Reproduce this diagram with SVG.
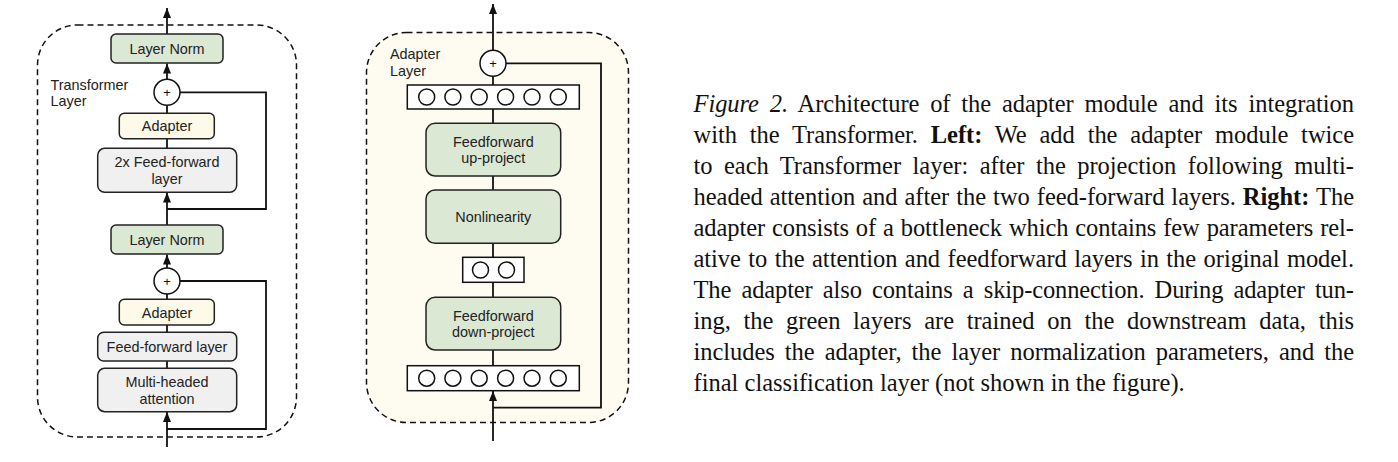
<svg xmlns="http://www.w3.org/2000/svg" width="1398" height="462" viewBox="0 0 1398 462">
<style>
.frame{fill:none;stroke:#111;stroke-width:1.5;stroke-dasharray:6 4}
.green{fill:#dbe8d4;stroke:#222;stroke-width:1.5}
.cream{fill:#fdfaea;stroke:#222;stroke-width:1.5}
.grey{fill:#f0f0f0;stroke:#222;stroke-width:1.5}
.plain{fill:#fff;stroke:#111;stroke-width:1.5}
.lbl{font-family:"Liberation Sans",Arial,sans-serif;font-size:14.4px;fill:#222}
.ctr{text-anchor:middle}
.plus{font-family:"Liberation Sans",Arial,sans-serif;font-size:13px;fill:#111;text-anchor:middle}
.wire{fill:none;stroke:#111;stroke-width:1.8}
.cap{font-family:"Liberation Serif","Times New Roman",serif;font-size:24.5px;fill:#111}
</style>
<defs>
<marker id="ah" markerUnits="userSpaceOnUse" markerWidth="10" markerHeight="8" refX="10" refY="4" orient="auto">
<path d="M0,0 L10,4 L0,8 Z" fill="#111"/>
</marker>
</defs>

<g id="left-frame">
<rect class="frame" x="37.5" y="25" width="259" height="412" rx="40"/>
<text class="lbl" x="50.5" y="89.5">Transformer</text>
<text class="lbl" x="50.5" y="106">Layer</text>
</g>

<g id="right-frame">
<rect class="frame" x="366.5" y="32.5" width="262" height="390" rx="40" style="fill:#fefcf0"/>
<text class="lbl" x="390" y="59">Adapter</text>
<text class="lbl" x="390" y="75.5">Layer</text>
</g>

<g id="connectors">
<line class="wire" x1="167" y1="34" x2="167" y2="8" marker-end="url(#ah)"/>
<line class="wire" x1="167" y1="79" x2="167" y2="63.5" marker-end="url(#ah)"/>
<line class="wire" x1="167" y1="105" x2="167" y2="113.5"/>
<line class="wire" x1="167" y1="138.5" x2="167" y2="148.5"/>
<line class="wire" x1="167" y1="225" x2="167" y2="192.5" marker-end="url(#ah)"/>
<polyline class="wire" points="180,92.3 266,92.3 266,209 167,209"/>
<line class="wire" x1="167" y1="268" x2="167" y2="254.5" marker-end="url(#ah)"/>
<line class="wire" x1="167" y1="294" x2="167" y2="299.5"/>
<line class="wire" x1="167" y1="325" x2="167" y2="332.5"/>
<line class="wire" x1="167" y1="361" x2="167" y2="368.5"/>
<line class="wire" x1="167" y1="447" x2="167" y2="412" marker-end="url(#ah)"/>
<polyline class="wire" points="180,281 266,281 266,429 167,429"/>
<line class="wire" x1="493" y1="50.3" x2="493" y2="4" marker-end="url(#ah)"/>
<line class="wire" x1="493" y1="76.3" x2="493" y2="85"/>
<line class="wire" x1="493" y1="109" x2="493" y2="123.5"/>
<line class="wire" x1="493" y1="176" x2="493" y2="190"/>
<line class="wire" x1="493" y1="243.3" x2="493" y2="257.3"/>
<line class="wire" x1="493" y1="282.3" x2="493" y2="297.3"/>
<line class="wire" x1="493" y1="350" x2="493" y2="365.7"/>
<line class="wire" x1="493" y1="441" x2="493" y2="391" marker-end="url(#ah)"/>
<polyline class="wire" points="506,63.3 601,63.3 601,407.7 493,407.7"/>
</g>

<g id="ln-top">
<rect class="green" x="111" y="34" width="112" height="29" rx="5"/>
<text class="lbl ctr" x="167" y="54">Layer Norm</text>
</g>
<g id="plus-top">
<circle class="plain" cx="167" cy="92.3" r="13"/>
<text class="plus" x="167" y="97">+</text>
</g>
<g id="adapter-top">
<rect class="cream" x="119.3" y="113.3" width="95" height="25.4" rx="5"/>
<text class="lbl ctr" x="167" y="131.3">Adapter</text>
</g>
<g id="ff2x">
<rect class="grey" x="97.7" y="148.3" width="139" height="44" rx="7"/>
<text class="lbl ctr" x="167" y="167.3">2x Feed-forward</text>
<text class="lbl ctr" x="167" y="183.5">layer</text>
</g>
<g id="ln-bottom">
<rect class="green" x="111" y="225" width="112" height="29" rx="5"/>
<text class="lbl ctr" x="167" y="245">Layer Norm</text>
</g>
<g id="plus-bottom">
<circle class="plain" cx="167" cy="281" r="13"/>
<text class="plus" x="167" y="285.7">+</text>
</g>
<g id="adapter-bottom">
<rect class="cream" x="119.3" y="299.3" width="95" height="25.7" rx="5"/>
<text class="lbl ctr" x="167" y="317.6">Adapter</text>
</g>
<g id="ff">
<rect class="grey" x="97.7" y="332.3" width="139" height="28.7" rx="6"/>
<text class="lbl ctr" x="167" y="351.6">Feed-forward layer</text>
</g>
<g id="mha">
<rect class="grey" x="97.7" y="368.3" width="139" height="43.4" rx="7"/>
<text class="lbl ctr" x="167" y="387.3">Multi-headed</text>
<text class="lbl ctr" x="167" y="403.6">attention</text>
</g>

<g id="plus-adapter">
<circle class="plain" cx="493" cy="63.3" r="13"/>
<text class="plus" x="493" y="68">+</text>
</g>
<g id="out-units">
<rect class="plain" x="407.3" y="85" width="172" height="24"/>
<circle class="plain" cx="426.7" cy="97" r="8"/>
<circle class="plain" cx="452.9" cy="97" r="8"/>
<circle class="plain" cx="479.2" cy="97" r="8"/>
<circle class="plain" cx="505.6" cy="97" r="8"/>
<circle class="plain" cx="532" cy="97" r="8"/>
<circle class="plain" cx="558.3" cy="97" r="8"/>
</g>
<g id="up-project">
<rect class="green" x="426" y="123.3" width="134.7" height="52.7" rx="9"/>
<text class="lbl ctr" x="493.3" y="146.7">Feedforward</text>
<text class="lbl ctr" x="493.3" y="163.3">up-project</text>
</g>
<g id="nonlinearity">
<rect class="green" x="426" y="190" width="134.7" height="53.3" rx="9"/>
<text class="lbl ctr" x="493.3" y="221.7">Nonlinearity</text>
</g>
<g id="bottleneck-units">
<rect class="plain" x="462.7" y="257.3" width="61.3" height="25"/>
<circle class="plain" cx="480.5" cy="270" r="8"/>
<circle class="plain" cx="506.5" cy="270" r="8"/>
</g>
<g id="down-project">
<rect class="green" x="426" y="297.3" width="134.7" height="52.7" rx="9"/>
<text class="lbl ctr" x="493.3" y="320.7">Feedforward</text>
<text class="lbl ctr" x="493.3" y="337.3">down-project</text>
</g>
<g id="in-units">
<rect class="plain" x="407.3" y="365.7" width="172" height="25"/>
<circle class="plain" cx="426.7" cy="378.2" r="8"/>
<circle class="plain" cx="452.9" cy="378.2" r="8"/>
<circle class="plain" cx="479.2" cy="378.2" r="8"/>
<circle class="plain" cx="505.6" cy="378.2" r="8"/>
<circle class="plain" cx="532" cy="378.2" r="8"/>
<circle class="plain" cx="558.3" cy="378.2" r="8"/>
</g>

<g id="caption">
<text class="cap" x="693.5" y="112" word-spacing="4.8" textLength="660.5" lengthAdjust="spacing"><tspan font-style="italic">Figure 2.</tspan> Architecture of the adapter module and its integration</text>
<text class="cap" x="693.5" y="143" word-spacing="6.8" textLength="660.5" lengthAdjust="spacing">with the Transformer. <tspan font-weight="bold">Left:</tspan> We add the adapter module twice</text>
<text class="cap" x="693.5" y="174" word-spacing="5.4" textLength="660.5" lengthAdjust="spacing">to each Transformer layer: after the projection following multi-</text>
<text class="cap" x="693.5" y="205" word-spacing="0.9" textLength="660.5" lengthAdjust="spacing">headed attention and after the two feed-forward layers. <tspan font-weight="bold">Right:</tspan> The</text>
<text class="cap" x="693.5" y="236" word-spacing="0.9" textLength="660.5" lengthAdjust="spacing">adapter consists of a bottleneck which contains few parameters rel-</text>
<text class="cap" x="693.5" y="267" word-spacing="1.4" textLength="660.5" lengthAdjust="spacing">ative to the attention and feedforward layers in the original model.</text>
<text class="cap" x="693.5" y="298" word-spacing="4.2" textLength="660.5" lengthAdjust="spacing">The adapter also contains a skip-connection. During adapter tun-</text>
<text class="cap" x="693.5" y="329" word-spacing="6.6" textLength="660.5" lengthAdjust="spacing">ing, the green layers are trained on the downstream data, this</text>
<text class="cap" x="693.5" y="360" word-spacing="4.0" textLength="660.5" lengthAdjust="spacing">includes the adapter, the layer normalization parameters, and the</text>
<text class="cap" x="693.5" y="391">final classification layer (not shown in the figure).</text>
</g>
</svg>
